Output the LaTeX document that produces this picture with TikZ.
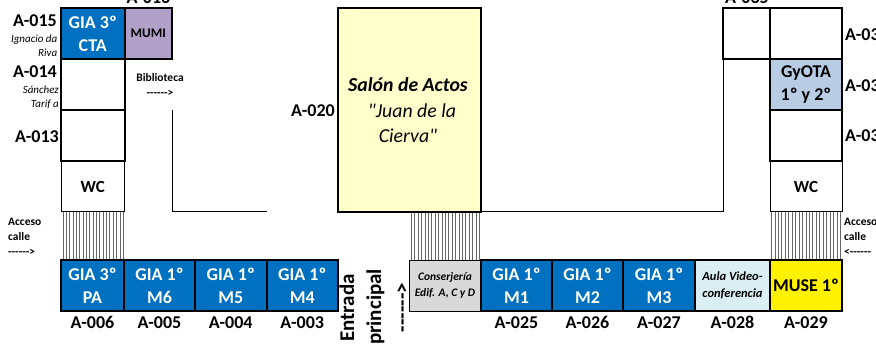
\documentclass[tikz,border=0pt]{standalone}
\usepackage{fontspec}
\usepackage{xcolor}
\setmainfont{Carlito}
\newfontfamily\plainfont{Carlito}
\usetikzlibrary{positioning}
\definecolor{giablue}{HTML}{0070C0}
\definecolor{mumipurple}{HTML}{B1A0C7}
\definecolor{gyotablue}{HTML}{B8CCE4}
\definecolor{salonyellow}{HTML}{FFFFCC}
\definecolor{aulablue}{HTML}{DAEEF3}
\definecolor{conserjegray}{HTML}{D9D9D9}
\tikzset{
	room/.style={draw=black,line width=2pt,minimum width=#1,minimum height=51pt,
		inner sep=0pt,outer sep=0pt,align=center,anchor=north west,font=\bfseries\fontsize{18}{23}\selectfont},
	room/.default=71pt,
	gia/.style={room=#1,fill=giablue,text=white},
	gia/.default=71pt,
	wc/.style={draw=black,line width=1pt,minimum width=#1,minimum height=51pt,
		inner sep=0pt,outer sep=0pt,anchor=north west,font=\bfseries\fontsize{17}{20}\selectfont},
	code/.style={font=\bfseries\fontsize{18}{20}\selectfont,inner sep=0pt,text height=11.4pt,text depth=0pt},
	small/.style={font=\itshape\fontsize{11}{14}\selectfont,inner sep=0pt,align=right,anchor=east},
	sign/.style={font=\plainfont\bfseries\fontsize{11.5}{15}\selectfont,inner sep=0pt,align=left,anchor=north west},
	stair/.style={draw=black!60,line width=0.9pt},
	wall/.style={draw=black,line width=1pt}
}
\begin{document}
\begin{tikzpicture}[x=1pt,y=-1pt]
	\useasboundingbox (0,0) rectangle (876,347);
	% stairs
	\foreach \x in {63,66.35,...,124}
		\draw[stair] (\x,212) -- (\x,260);
	\foreach \x in {411.5,414.9,...,481}
		\draw[stair] (\x,212) -- (\x,260);
	\foreach \x in {771.5,774.95,...,842}
		\draw[stair] (\x,212) -- (\x,260);
	% left wing
	\node[gia=63.5pt] (a015) at (61,8) {GIA 3º\\CTA};
	\node[room=47.5pt,fill=mumipurple,font=\bfseries\fontsize{13.2}{15}\selectfont] (a016) at (124.5,8) {MUMI};
	\node[room=63.5pt] (a014) at (61,59) {};
	\node[room=63.5pt] (a013) at (61,110) {};
	\node[wc=63.5pt] (wcleft) at (61,161) {WC};
	% corridor
	\coordinate (wallA) at (172,110);
	\coordinate (wallB) at (172,212);
	\coordinate (wallC) at (267,212);
	\draw[wall] (wallA) -- (wallB) -- (wallC);
	% hall
	\node[room=143pt,minimum height=204pt,fill=salonyellow] (a020) at (338,8) {};
	\node[font=\bfseries\itshape\fontsize{19.8}{24}\selectfont,inner sep=0pt] (salon) at (408,85) {Salón de Actos};
	\node[font=\plainfont\itshape\fontsize{19.8}{25}\selectfont,inner sep=0pt,align=center] (cierva) at (408,123) {\hspace*{8pt}"Juan de la\\Cierva"};
	\coordinate (wallD) at (481,212);
	\coordinate (wallE) at (723,212);
	\coordinate (wallF) at (723,59);
	\draw[wall] (wallD) -- (wallE) -- (wallF);
	% right wing
	\node[room=47pt] (a035) at (723,8) {};
	\node[room=72pt] (a034) at (770,8) {};
	\node[room=72pt,fill=gyotablue,text=black] (a033) at (770,59) {GyOTA\\1º y 2º};
	\node[room=72pt] (a032) at (770,110) {};
	\node[wc=72pt] (wcright) at (770,161) {WC};
	% bottom row
	\node[gia=63pt] (a006) at (61,260) {GIA 3º\\PA};
	\node[gia=71pt] (a005) at (124,260) {GIA 1º\\M6};
	\node[gia=71.5pt] (a004) at (195,260) {GIA 1º\\M5};
	\node[gia=71.5pt] (a003) at (266.5,260) {GIA 1º\\M4};
	\node[wc=72pt,fill=conserjegray,align=center,font=\bfseries\itshape\fontsize{11.5}{16}\selectfont,line width=0.7pt] (conserje) at (409,260) {Conserjería\\Edif. A, C y D};
	\node[gia=71pt] (a025) at (481,260) {GIA 1º\\M1};
	\node[gia=71pt] (a026) at (552,260) {GIA 1º\\M2};
	\node[gia=72pt] (a027) at (623,260) {GIA 1º\\M3};
	\node[room=75pt,fill=aulablue,font=\bfseries\itshape\fontsize{12.5}{17}\selectfont] (a028) at (695,260) {Aula Video-\\conferencia};
	\node[room=72pt,fill=yellow,font=\bfseries\fontsize{18}{20}\selectfont] (a029) at (770,260) {MUSE 1º};
	% room codes
	\foreach \n/\t in {a006/A-006,a005/A-005,a004/A-004,a003/A-003,a025/A-025,a026/A-026,a027/A-027,a028/A-028,a029/A-029}
		\node[code,below=6pt of \n] (\n code) {\t};
	\node[code,anchor=east] (a015code) at (57,20.7) {A-015};
	\node[code,anchor=east] (a014code) at (57,71.7) {A-014};
	\node[code,anchor=east] (a013code) at (59,136.7) {A-013};
	\node[code,anchor=south] (a016code) at (148.5,4) {A-016};
	\node[code,anchor=east] (a020code) at (335,110.7) {A-020};
	\node[code,anchor=south] (a035code) at (747,4) {A-035};
	\node[code,anchor=west] (a034code) at (845,35) {A-034};
	\node[code,anchor=west] (a033code) at (845,86) {A-033};
	\node[code,anchor=west] (a032code) at (845,136) {A-032};
	\node[small] (riva) at (57.5,45.7) {Ignacio da\\Riva};
	\node[small] (tarifa) at (59,97) {Sánchez\\Tarif a};
	% signs
	\node[sign,align=center,anchor=north] (biblio) at (160,73) {Biblioteca\\------>};
	\node[sign] (accesoleft) at (8,218) {Acceso\\calle\\------>};
	\node[sign] (accesoright) at (844,218) {Acceso\\calle\\<------};
	\node[rotate=90,font=\bfseries\fontsize{21}{27}\selectfont,align=left,inner sep=0pt] (entrada) at (362,307) {\hspace*{3pt}Entrada\\principal};
	\node[rotate=90,font=\plainfont\bfseries\fontsize{21}{24}\selectfont,inner sep=0pt] (arrow) at (403,307.5) {------>};
\end{tikzpicture}
\end{document}
